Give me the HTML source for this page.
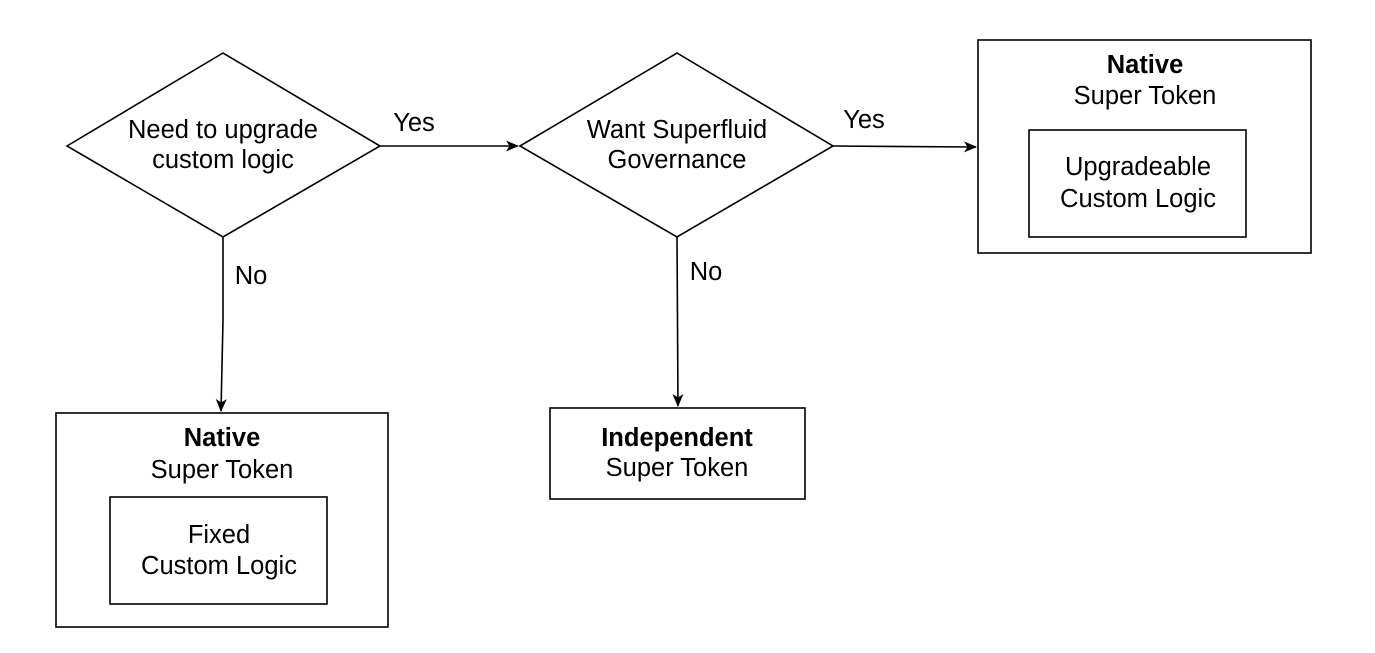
<!DOCTYPE html>
<html><head><style>html,body{margin:0;padding:0;background:#fff}svg{display:block}</style></head>
<body>
<svg width="1375" height="653" viewBox="0 0 1375 653" xmlns="http://www.w3.org/2000/svg" font-family="Liberation Sans, sans-serif" font-size="25.5" fill="#000">
<defs><marker id="a" markerWidth="14" markerHeight="14" refX="12" refY="7" orient="auto" markerUnits="userSpaceOnUse"><path d="M0,1.5 L13,7 L0,12.5 L3.5,7 z" fill="#000"/></marker></defs>
<g stroke="#000" stroke-width="1.6" fill="none">
<polygon points="67,146 223,53 380,146 223,237" fill="#fff"/>
<polygon points="520,146 677,53 833,146 677,237" fill="#fff"/>
<rect x="978" y="40" width="333" height="213"/>
<rect x="1029" y="130" width="217" height="107"/>
<rect x="56" y="413" width="332" height="214"/>
<rect x="110" y="497" width="217" height="107"/>
<rect x="550" y="408" width="255" height="91"/>
<path d="M380,146 L518,146" marker-end="url(#a)"/>
<path d="M833,146 L976,147" marker-end="url(#a)"/>
<path d="M223,237 L223,320 L221,411" marker-end="url(#a)"/>
<path d="M677,237 L678,406" marker-end="url(#a)"/>
</g>
<g text-anchor="middle" dominant-baseline="central" stroke="none">
<text x="223" y="130">Need to upgrade</text>
<text x="223" y="160">custom logic</text>
<text x="677" y="130">Want Superfluid</text>
<text x="677" y="160">Governance</text>
<text x="414" y="123">Yes</text>
<text x="864" y="120">Yes</text>
<text x="251" y="276">No</text>
<text x="706" y="272">No</text>
<text x="1145" y="65" font-weight="bold">Native</text>
<text x="1145" y="96">Super Token</text>
<text x="1138" y="167">Upgradeable</text>
<text x="1138" y="199">Custom Logic</text>
<text x="222" y="438" font-weight="bold">Native</text>
<text x="222" y="470">Super Token</text>
<text x="219" y="535">Fixed</text>
<text x="219" y="566">Custom Logic</text>
<text x="677" y="438" font-weight="bold">Independent</text>
<text x="677" y="468">Super Token</text>
</g>
</svg>
</body></html>
